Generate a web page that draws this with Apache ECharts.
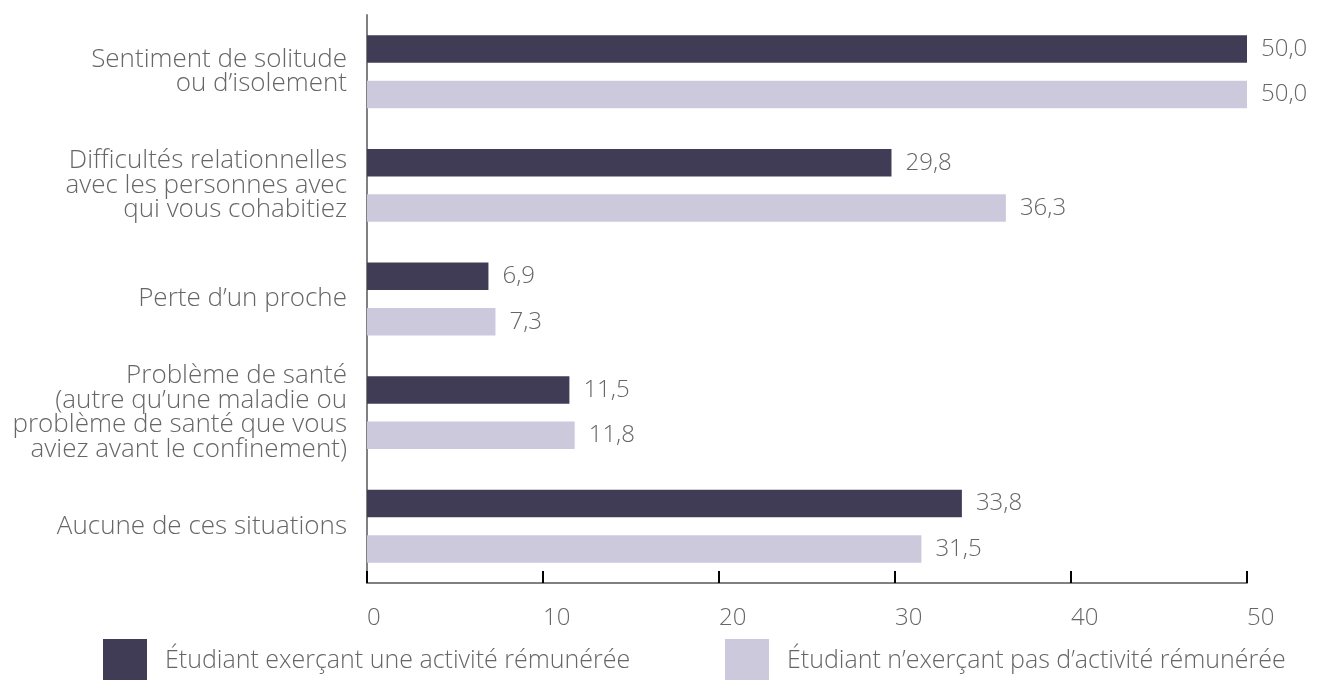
<!DOCTYPE html>
<html><head><meta charset="utf-8">
<script src="https://cdn.jsdelivr.net/npm/echarts@6/dist/echarts.min.js"></script>
<style>html,body{margin:0;padding:0;background:#fff}#c{width:1323px;height:680px}</style>
</head><body><div id="c"></div>
<script>
const categories = [
  "Sentiment de solitude\nou d\u2019isolement",
  "Difficultés relationnelles\navec les personnes avec\nqui vous cohabitiez",
  "Perte d\u2019un proche",
  "Problème de santé\n(autre qu\u2019une maladie ou\nproblème de santé que vous\naviez avant le confinement)",
  "Aucune de ces situations"
];
const seriesNames = ["Étudiant exerçant une activité rémunérée", "Étudiant n\u2019exerçant pas d\u2019activité rémunérée"];
const withJob = [50.0, 29.8, 6.9, 11.5, 33.8];
const withoutJob = [50.0, 36.3, 7.3, 11.8, 31.5];
const xTicks = [0, 10, 20, 30, 40, 50];

const FONT = "'Open Sans', sans-serif";
const TXT = '#666666';
const fmt = v => v.toFixed(1).replace('.', ',');
const chart = echarts.init(document.getElementById('c'), null, {renderer: 'canvas'});
const legendText = {fontSize: 25, color: TXT, fontFamily: FONT, fontWeight: 300, padding: [0, 0, 0, 13]};
const valueLabel = {show: true, position: 'right', distance: 14, fontSize: 24, color: TXT, fontFamily: FONT, fontWeight: 300, formatter: p => fmt(p.value)};
chart.setOption({
  animation: false,
  textStyle: {fontFamily: FONT, fontWeight: 300},
  grid: {left: 367, right: 76, top: 15, bottom: 97, containLabel: false},
  legend: [
    {data: [seriesNames[0]], left: 103, top: 639, padding: 0, itemWidth: 44, itemHeight: 44, icon: 'rect', textStyle: legendText},
    {data: [seriesNames[1]], left: 725, top: 639, padding: 0, itemWidth: 44, itemHeight: 44, icon: 'rect', textStyle: legendText}
  ],
  xAxis: {
    type: 'value', min: xTicks[0], max: xTicks[xTicks.length - 1], interval: 10,
    splitLine: {show: false},
    axisLine: {show: true, lineStyle: {color: '#808080', width: 2}},
    axisTick: {show: true, inside: true, length: 12, lineStyle: {color: '#000', width: 2}},
    axisLabel: {fontSize: 24, color: TXT, margin: 23, align: 'left', fontFamily: FONT, fontWeight: 300}
  },
  yAxis: {
    type: 'category', data: categories, inverse: true,
    axisLine: {show: true, lineStyle: {color: '#808080', width: 2}},
    axisTick: {show: false},
    axisLabel: {fontSize: 26, lineHeight: 24.5, color: TXT, margin: 20, align: 'right', fontFamily: FONT, fontWeight: 300}
  },
  series: [
    {name: seriesNames[0], type: 'bar', data: withJob, barWidth: 27.5, barGap: '65%',
     itemStyle: {color: '#403c56'}, label: valueLabel},
    {name: seriesNames[1], type: 'bar', data: withoutJob, barWidth: 27.5,
     itemStyle: {color: '#ccc9dd'}, label: valueLabel}
  ]
});
</script></body></html>
